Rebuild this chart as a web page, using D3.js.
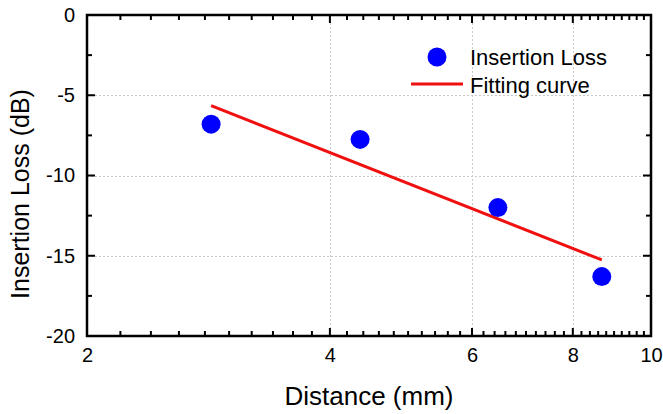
<!DOCTYPE html>
<html>
<head>
<meta charset="utf-8">
<script src="https://cdn.jsdelivr.net/npm/d3@7"></script>
<style>
  html, body { margin: 0; padding: 0; background: #fff; }
  svg { display: block; font-family: "Liberation Sans", Arial, sans-serif; }
</style>
</head>
<body>
<svg id="chart" width="663" height="414"></svg>
<script>
// Measured insertion loss versus distance
const distance = [2.85, 4.36, 6.46, 8.69];
const insertionLoss = [-6.8, -7.75, -12.0, -16.3];

// Fitted trend (straight on the log distance axis)
const fitDistance = [2.85, 8.69];
const fitLoss = [-5.65, -15.26];

// Axis ticks
const xMajor = [2, 4, 6, 8, 10];
const xMinor = d3.range(2.2, 10, 0.2).map(v => +v.toFixed(1)).filter(v => !xMajor.includes(v));
const yMajor = [0, -5, -10, -15, -20];
const yMinor = [-2.5, -7.5, -12.5, -17.5];
const xGrid = [4, 6, 8];
const yGrid = [-5, -10, -15];

const legendLabels = ["Insertion Loss", "Fitting curve"];

const svg = d3.select("#chart");
const plotL = 87, plotR = 651, plotT = 15, plotB = 336;
const majorLen = 8, minorLen = 5;

const x = d3.scaleLog().domain([2, 10]).range([plotL, plotR]);
const y = d3.scaleLinear().domain([-20, 0]).range([plotB, plotT]);

// grid
const grid = svg.append("g").attr("stroke", "#c8c8c8").attr("stroke-width", 1)
  .attr("stroke-dasharray", "2,2");
grid.selectAll("line.gx").data(xGrid).join("line").attr("class", "gx")
  .attr("x1", d => Math.round(x(d)) + 0.5).attr("x2", d => Math.round(x(d)) + 0.5)
  .attr("y1", plotT).attr("y2", plotB);
grid.selectAll("line.gy").data(yGrid).join("line").attr("class", "gy")
  .attr("y1", d => Math.round(y(d)) + 0.5).attr("y2", d => Math.round(y(d)) + 0.5)
  .attr("x1", plotL).attr("x2", plotR);

// tick labels from d3 axes (tick lines drawn separately, pointing inward)
const fmt = d => String(d);
svg.append("g").attr("transform", `translate(0,${plotB})`)
  .call(d3.axisBottom(x).tickValues(xMajor).tickFormat(fmt).tickSize(0).tickPadding(12))
  .call(g => g.select(".domain").remove())
  .call(g => g.selectAll("text").attr("fill", "#000").attr("font-size", 20));
svg.append("g").attr("transform", `translate(${plotL},0)`)
  .call(d3.axisLeft(y).tickValues(yMajor).tickFormat(fmt).tickSize(0).tickPadding(12))
  .call(g => g.select(".domain").remove())
  .call(g => g.selectAll("text").attr("fill", "#000").attr("font-size", 20));

// inward tick marks on all four sides
const ticks = svg.append("g").attr("stroke", "#000").attr("stroke-width", 2);
const xTicks = xMajor.map(v => [v, majorLen]).concat(xMinor.map(v => [v, minorLen]));
const yTicks = yMajor.map(v => [v, majorLen]).concat(yMinor.map(v => [v, minorLen]));
ticks.selectAll("line.xb").data(xTicks).join("line").attr("class", "xb")
  .attr("x1", d => x(d[0])).attr("x2", d => x(d[0]))
  .attr("y1", plotB).attr("y2", d => plotB - d[1]);
ticks.selectAll("line.xt").data(xTicks).join("line").attr("class", "xt")
  .attr("x1", d => x(d[0])).attr("x2", d => x(d[0]))
  .attr("y1", plotT).attr("y2", d => plotT + d[1]);
ticks.selectAll("line.yl").data(yTicks).join("line").attr("class", "yl")
  .attr("y1", d => y(d[0])).attr("y2", d => y(d[0]))
  .attr("x1", plotL).attr("x2", d => plotL + d[1]);
ticks.selectAll("line.yr").data(yTicks).join("line").attr("class", "yr")
  .attr("y1", d => y(d[0])).attr("y2", d => y(d[0]))
  .attr("x1", plotR).attr("x2", d => plotR - d[1]);

// frame
svg.append("rect").attr("x", plotL).attr("y", plotT)
  .attr("width", plotR - plotL).attr("height", plotB - plotT)
  .attr("fill", "none").attr("stroke", "#000").attr("stroke-width", 2.5);

// fitting curve
const fitPts = fitDistance.map((d, i) => [d, fitLoss[i]]);
svg.append("path").datum(fitPts)
  .attr("d", d3.line().x(d => x(d[0])).y(d => y(d[1])))
  .attr("fill", "none").attr("stroke", "#f01010").attr("stroke-width", 3);

// measured points
svg.append("g").selectAll("circle")
  .data(distance.map((d, i) => [d, insertionLoss[i]]))
  .join("circle")
  .attr("cx", d => x(d[0])).attr("cy", d => y(d[1])).attr("r", 9.5)
  .attr("fill", "#0000ff");

// axis titles
svg.append("text").attr("x", (plotL + plotR) / 2).attr("y", 405)
  .attr("text-anchor", "middle").attr("font-size", 26).attr("fill", "#000")
  .text("Distance (mm)");
svg.append("text").attr("transform", "translate(29,194) rotate(-90)")
  .attr("text-anchor", "middle").attr("font-size", 25).attr("fill", "#000")
  .text("Insertion Loss (dB)");

// legend
const lg = svg.append("g");
lg.append("circle").attr("cx", 437).attr("cy", 57).attr("r", 9.5).attr("fill", "#0000ff");
lg.append("line").attr("x1", 411).attr("x2", 463).attr("y1", 84).attr("y2", 84)
  .attr("stroke", "#f01010").attr("stroke-width", 3);
lg.selectAll("text").data(legendLabels).join("text")
  .attr("x", 470).attr("y", (d, i) => 65 + i * 28)
  .attr("font-size", 22).attr("fill", "#000").text(d => d);
</script>
</body>
</html>
